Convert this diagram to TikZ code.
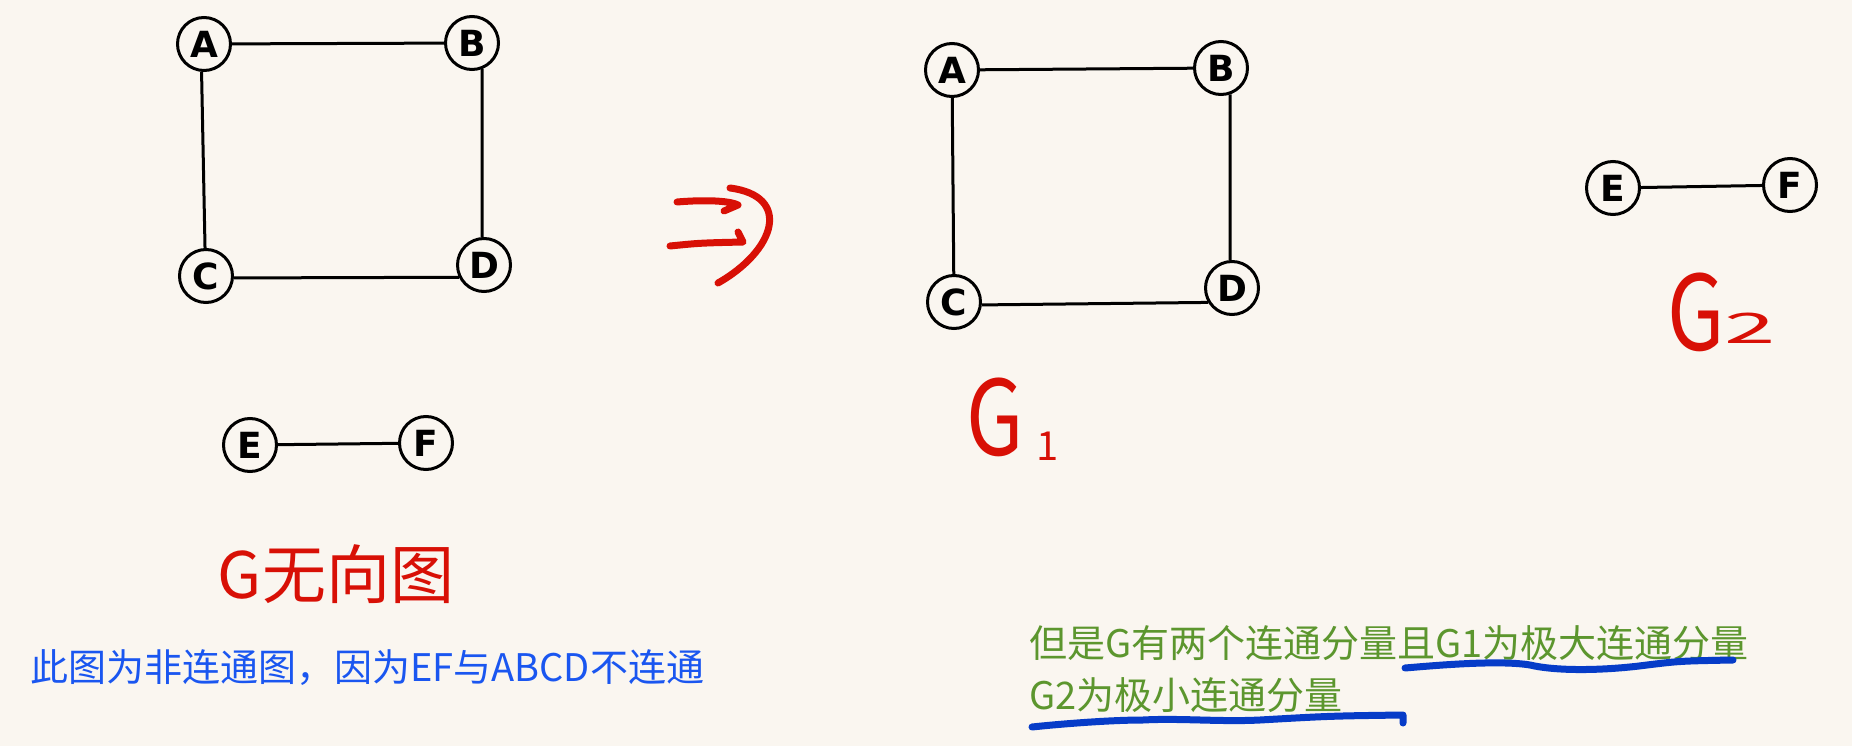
\documentclass[tikz,border=0pt]{standalone}
\usepackage{fontspec}
\setmainfont{Noto Sans CJK SC}
\newfontfamily\cjk{Noto Sans CJK SC}
\newfontfamily\letterfont{DejaVu Sans}
\usetikzlibrary{positioning,calc}
\definecolor{paper}{RGB}{250,246,240}
\definecolor{inkred}{RGB}{216,16,6}
\definecolor{noteblue}{RGB}{26,86,240}
\definecolor{notegreen}{RGB}{92,150,46}
\definecolor{penblue}{RGB}{6,60,200}
\tikzset{
	vertex/.style={circle, draw=black, line width=3pt, minimum size=53pt, inner sep=0pt,
		font=\letterfont\bfseries\fontsize{36}{36}\selectfont},
	edge/.style={line width=3pt},
	hand/.style={text=inkred, inner sep=0pt, font=\cjk\fontsize{64}{64}\selectfont},
	note/.style={anchor=west, inner sep=0pt, font=\cjk\fontsize{38}{38}\selectfont},
	pen/.style={line width=7pt, line cap=round, line join=round, draw=inkred},
	marker/.style={line width=7pt, line cap=round, line join=round, draw=penblue},
}

\begin{document}
\begin{tikzpicture}[x=1pt, y=-1pt]
	\fill[paper] (0,0) rectangle (1852,746);
	\useasboundingbox (0,0) rectangle (1852,746);

	% graph G
	\node[vertex] (a) at (204, 44) {A};
	\node[vertex] (b) at (472, 43) {B};
	\node[vertex] (c) at (206, 276) {C};
	\node[vertex] (d) at (484, 265) {D};
	\node[vertex] (e) at (250, 445) {E};
	\node[vertex] (f) at (426, 443) {F};

	\draw[edge] (a) -- (b);
	\draw[edge] (a.-95) -- (c.92);
	\draw[edge] (b.-69) -- (d.94);
	\draw[edge] (c.-4) -- (d.206);
	\draw[edge] (e) -- (f);

	\node[hand] (gname) at (336, 574) {G无向图};

	% arrow
	\draw[pen] (677,202) .. controls (700,200) and (728,200) .. (738,205) -- (724,211);
	\draw[pen] (670,246) .. controls (700,243) .. (743,242) -- (738,232);
	\draw[pen] (730,188) .. controls (792,196) and (776,250) .. (718,283);

	% component G1
	\node[vertex] (a1) at (952, 70) {A};
	\node[vertex] (b1) at (1221, 68) {B};
	\node[vertex] (c1) at (954, 302) {C};
	\node[vertex] (d1) at (1232, 288) {D};

	\draw[edge] (a1) -- (b1);
	\draw[edge] (a1) -- (c1);
	\draw[edge] (b1.-71) -- (d1.94);
	\draw[edge] (c1.-6) -- (d1.211);

	\node[hand, anchor=base west, font=\cjk\fontsize{104}{104}\selectfont] (g1) at (966, 455)
		{\scalebox{0.8}[1]{G}\hspace{13pt}\raisebox{-5pt}{\fontsize{40}{40}\selectfont 1}};

	% component G2
	\node[vertex] (e2) at (1613, 188) {E};
	\node[vertex] (f2) at (1790, 185) {F};

	\draw[edge] (e2) -- (f2);

	\node[hand, anchor=base west, font=\cjk\fontsize{104}{104}\selectfont] (g2) at (1667, 350)
		{\scalebox{0.8}[1]{G}\raisebox{7pt}{\fontsize{42}{42}\selectfont\scalebox{2.2}[1]{2}}};

	% notes
	\node[note, text=noteblue] (note1) at (30, 668) {此图为非连通图，因为EF与ABCD不连通};
	\node[note, text=notegreen] (note2) at (1029, 643) {但是G有两个连通分量且G1为极大连通分量};
	\node[note, text=notegreen] (note3) at (1029, 695) {G2为极小连通分量};

	\draw[marker] (1405,668) .. controls (1440,665) and (1500,660) .. (1530,665)
		.. controls (1560,672) and (1610,670) .. (1647,665) .. controls (1680,661) .. (1733,660);
	\draw[marker] (1032,727) .. controls (1060,724) and (1110,720) .. (1143,720)
		.. controls (1180,718) and (1220,722) .. (1260,720) .. controls (1330,716) .. (1403,715) -- (1403,723);
\end{tikzpicture}
\end{document}
